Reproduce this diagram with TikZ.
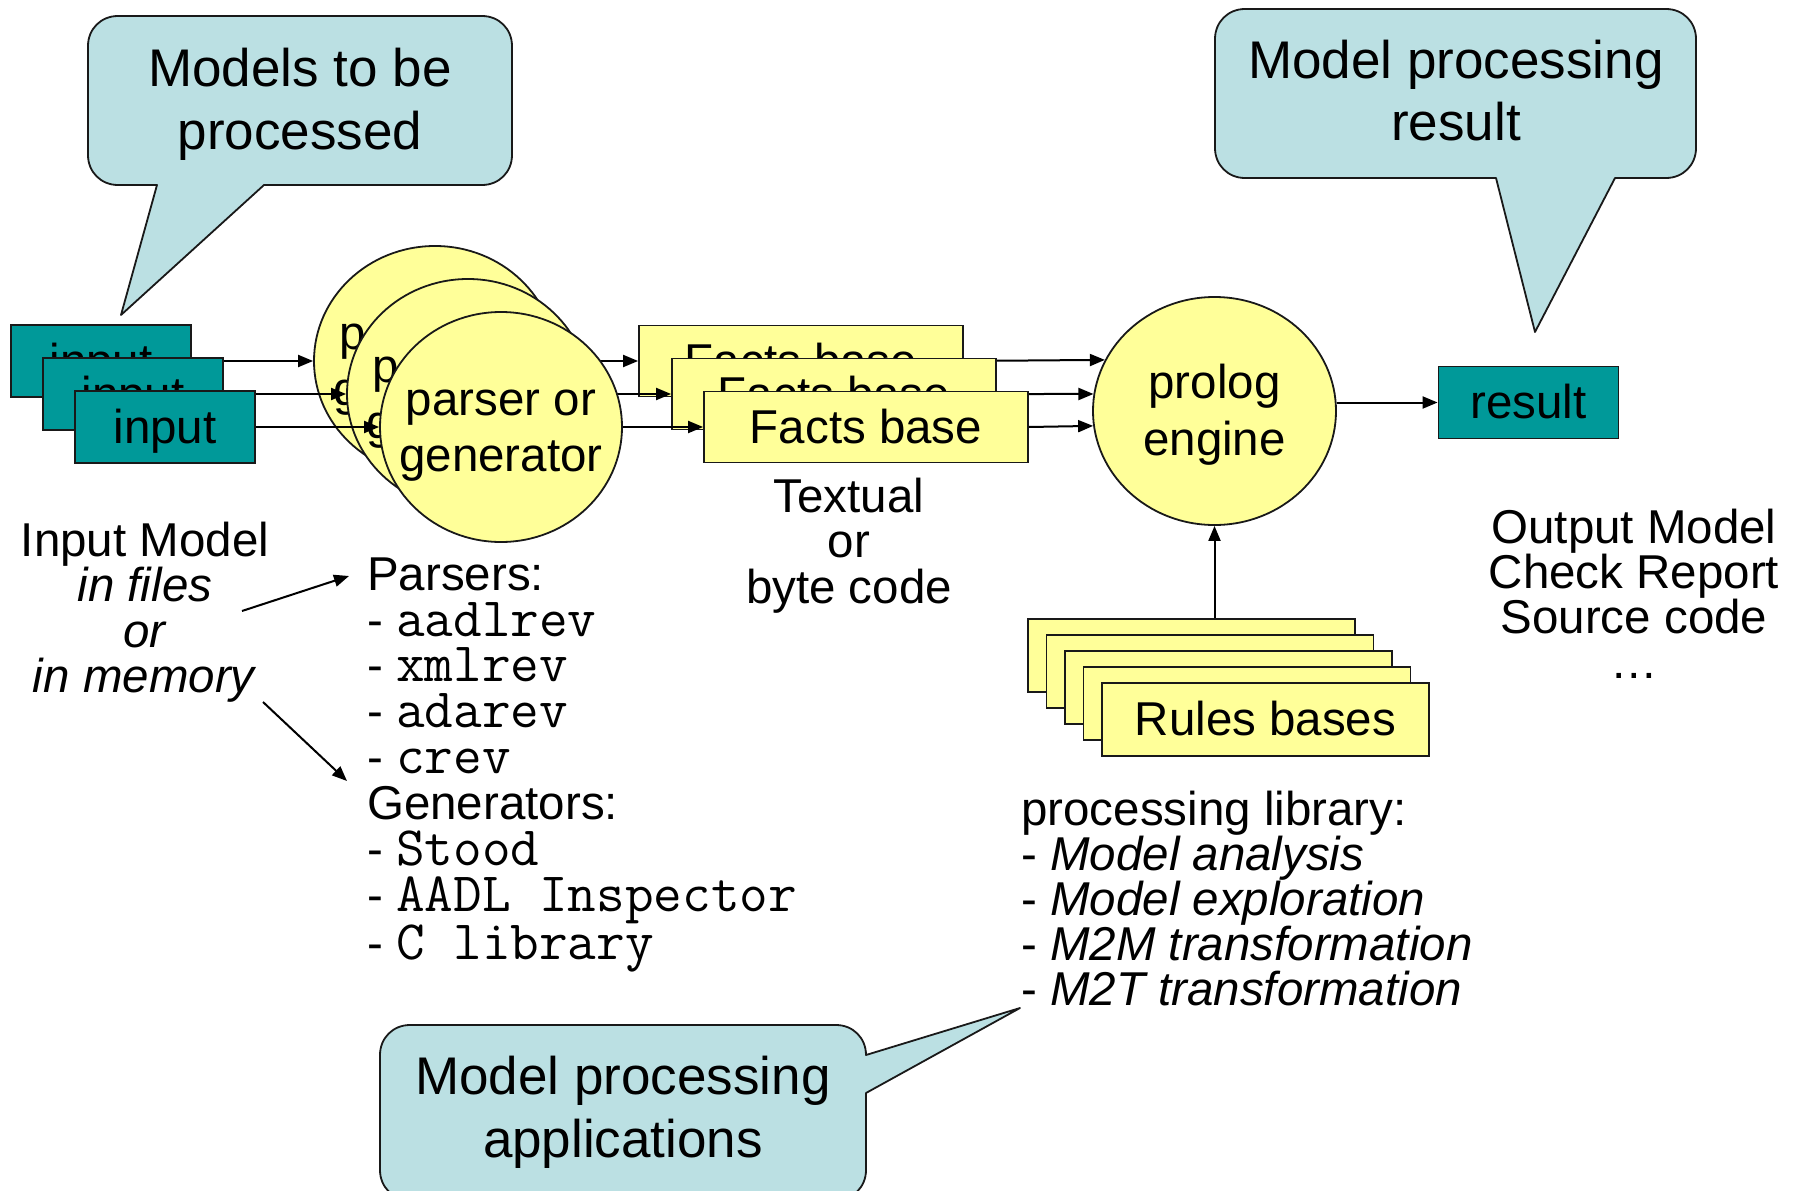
\documentclass[tikz,border=0pt]{standalone}
\usepackage{fontspec}
\setmainfont{Liberation Sans}
\setmonofont[Scale=1.17]{Latin Modern Mono}
\usetikzlibrary{arrows.meta,shapes.geometric}

\definecolor{tealbox}{RGB}{0,153,153}
\definecolor{paleyellow}{RGB}{255,255,153}
\definecolor{calloutblue}{RGB}{187,224,227}
\definecolor{edge}{RGB}{25,25,25}

% invisible rules giving every line the same ascent/descent
\newcommand\ascrule{\vrule height .905em depth 0pt width 0pt}
\newcommand\lnrule{\vrule height .905em depth .212em width 0pt}

\begin{document}
\begin{tikzpicture}[x=1pt,y=-1pt,
  shape line/.style={draw=edge, line width=1.8pt},
  label text/.style={font=\fontsize{47.5}{45.5}\selectfont, inner sep=0pt},
  call text/.style={font=\fontsize{53}{63}\selectfont, inner sep=0pt, align=center, anchor=north},
  inbox/.style={shape line, fill=tealbox, minimum width=180pt, minimum height=72pt,
    inner sep=0pt, font=\fontsize{47.5}{45.5}\selectfont},
  factbox/.style={shape line, fill=paleyellow, minimum width=324pt, minimum height=71pt,
    inner sep=0pt, font=\fontsize{47.5}{45.5}\selectfont},
  rulebox/.style={shape line, fill=paleyellow, minimum width=327pt, minimum height=73pt,
    inner sep=0pt, font=\fontsize{47.5}{45.5}\selectfont},
  parser/.style={ellipse, shape line, fill=paleyellow, minimum width=242pt, minimum height=230pt,
    inner ysep=0pt, inner xsep=-50pt, align=center, font=\fontsize{47.5}{56}\selectfont},
  engine/.style={ellipse, shape line, fill=paleyellow, minimum width=243pt, minimum height=228pt,
    inner ysep=0pt, inner xsep=-20pt, align=center, font=\fontsize{47.5}{57}\selectfont},
  flow/.style={line width=2pt, -{Triangle[length=15pt,width=12pt]}},
  callout/.style={draw=edge, line width=1.8pt, fill=calloutblue, line join=round},
]
\useasboundingbox (0,0) rectangle (1800,1191);
\fill[white] (0,0) rectangle (1800,1191);

% ---- speech bubbles ----
\draw[callout] (118,16) -- (482,16) .. controls (499,16) and (512,29) .. (512,46)
  -- (512,155) .. controls (512,172) and (499,185) .. (482,185)
  -- (264,185) -- (121,315) -- (157,185)
  -- (118,185) .. controls (101,185) and (88,172) .. (88,155)
  -- (88,46) .. controls (88,29) and (101,16) .. (118,16) -- cycle;
\node[call text] (modelsnote) at (300,38) {\ascrule Models to be\\processed};

\draw[callout] (1245,9) -- (1666,9) .. controls (1683,9) and (1696,22) .. (1696,39)
  -- (1696,148) .. controls (1696,165) and (1683,178) .. (1666,178)
  -- (1615,178) -- (1535,332) -- (1496,178)
  -- (1245,178) .. controls (1228,178) and (1215,165) .. (1215,148)
  -- (1215,39) .. controls (1215,22) and (1228,9) .. (1245,9) -- cycle;
\node[call text, font=\fontsize{53}{62}\selectfont] (resultnote) at (1456,30) {\ascrule Model processing\\result};

\draw[callout] (410,1025) -- (836,1025) .. controls (853,1025) and (866,1038) .. (866,1055)
  -- (1020,1008) -- (866,1093)
  -- (866,1170) .. controls (866,1187) and (853,1200) .. (836,1200)
  -- (410,1200) .. controls (393,1200) and (380,1187) .. (380,1170)
  -- (380,1055) .. controls (380,1038) and (393,1025) .. (410,1025) -- cycle;
\node[call text] (appsnote) at (623,1046) {\ascrule Model processing\\applications};

% ---- prolog engine and facts bases ----
\node[engine] (P) at (1214.5,411) {\lnrule prolog\\\lnrule engine};

\node[factbox] (f1) at (801,361) {\lnrule Facts base};
\draw[flow] (f1.east) -- (P.155.6);
\node[factbox] (f2) at (834,394) {\lnrule Facts base};
\draw[flow] (f2.east) -- (P.172);
\node[factbox] (f3) at (866,427) {\lnrule Facts base};
\draw[flow] (f3.east) -- (P.187.5);

% ---- parsers / generators ----
\node[parser] (c1) at (435,361) {\lnrule parser or\\\lnrule generator};
\draw[flow] (c1.east) -- (f1.west);
\node[parser] (c2) at (468,394) {\lnrule parser or\\\lnrule generator};
\draw[flow] (c2.east) -- (f2.west);
\node[parser] (c3) at (501,427) {\lnrule parser or\\\lnrule generator};
\draw[flow] (c3.east) -- (f3.west);

% ---- input models ----
\node[inbox] (b1) at (101,361) {\lnrule input};
\draw[flow] (b1.east) -- (c1.west);
\node[inbox] (b2) at (133,394) {\lnrule input};
\draw[flow] (b2.east) -- (c2.west);
\node[inbox] (b3) at (165,427) {\lnrule input};
\draw[flow] (b3.east) -- (c3.west);

% ---- rules bases ----
\node[rulebox] (r1) at (1191.5,655.5) {};
\node[rulebox] (r2) at (1210,671.5) {};
\node[rulebox] (r3) at (1228.5,687.5) {};
\node[rulebox] (r4) at (1247,703.5) {};
\node[rulebox] (r5) at (1265.5,719.5) {\lnrule Rules bases};
\draw[flow] (r1.north -| P.south) -- (P.south);

% ---- result ----
\node[inbox] (R) at (1528.5,402.5) {\lnrule result};
\draw[flow] (P.east |- R.west) -- (R.west);

% ---- annotations ----
\node[label text, align=center, anchor=north] (inmodel) at (145,513)
  {\ascrule Input Model\\\textit{in files}\\\textit{or}\\\textit{in memory}};
\node[label text, align=left, anchor=north west, font=\fontsize{47.5}{45.9}\selectfont] (tools) at (367,547)
  {\ascrule Parsers:\\- \texttt{aadlrev}\\- \texttt{xmlrev}\\- \texttt{adarev}\\- \texttt{crev}\\
   Generators:\\- \texttt{Stood}\\- \texttt{AADL Inspector}\\- \texttt{C library}};
\coordinate (inA) at (242,611);
\coordinate (parsersA) at (349,576);
\coordinate (inB) at (263,702);
\coordinate (genA) at (347,781);
\draw[flow] (inA) -- (parsersA);
\draw[flow] (inB) -- (genA);

\node[label text, align=center, anchor=north] (coding) at (849,469)
  {\ascrule Textual\\or\\byte code};
\node[label text, align=center, anchor=north, font=\fontsize{47.5}{45}\selectfont] (outputs) at (1634,500)
  {\ascrule Output Model\\Check Report\\Source code\\…};
\node[label text, align=left, anchor=north west, font=\fontsize{47.5}{45}\selectfont] (library) at (1021,782)
  {\ascrule processing library:\\- \textit{Model analysis}\\- \textit{Model exploration}\\
   - \textit{M2M transformation}\\- \textit{M2T transformation}};
\end{tikzpicture}
\end{document}
